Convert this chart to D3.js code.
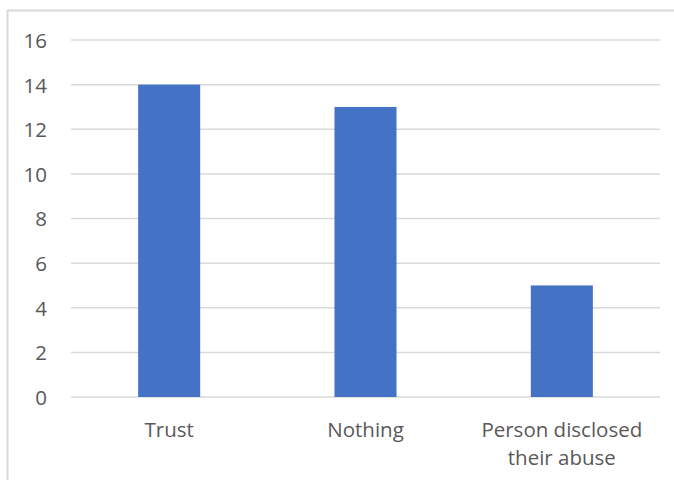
<!DOCTYPE html>
<html><head><meta charset="utf-8">
<script src="https://cdn.jsdelivr.net/npm/d3@7"></script>
<style>body{margin:0;background:#fff}svg{display:block}</style>
</head><body>
<script>
const categories = ["Trust", "Nothing", "Person disclosed their abuse"];
const values = [14, 13, 5];
const yTicks = [0, 2, 4, 6, 8, 10, 12, 14, 16];

const W = 674, H = 480;
const svg = d3.select("body").append("svg").attr("width", W).attr("height", H);
const font = "'Open Sans', sans-serif";
const textColor = "#595959";
const fs = 20.5;

// chart border (top & left visible)
svg.append("line").attr("x1", 7).attr("x2", W).attr("y1", 10.5).attr("y2", 10.5)
  .attr("stroke", "#d9d9d9").attr("stroke-width", 2);
svg.append("line").attr("x1", 7.5).attr("x2", 7.5).attr("y1", 10).attr("y2", H)
  .attr("stroke", "#d9d9d9").attr("stroke-width", 2);

const x0 = 71, x1 = 660, yTop = 40, yBot = 397;
const x = d3.scaleBand().domain(categories).range([x0, x1]).padding(0);
const y = d3.scaleLinear().domain([0, 16]).range([yBot, yTop]);

// gridlines
svg.append("g").selectAll("line").data(yTicks).join("line")
  .attr("x1", x0).attr("x2", x1)
  .attr("y1", d => y(d)).attr("y2", d => y(d))
  .attr("stroke", "#d9d9d9").attr("stroke-width", 1.5);

// y axis labels
const yAxis = d3.axisLeft(y).tickValues(yTicks).tickSize(0).tickPadding(0);
const gy = svg.append("g").attr("transform", "translate(47,0)").call(yAxis);
gy.select(".domain").remove();
gy.selectAll("text").attr("font-family", font).attr("font-size", fs).attr("fill", textColor)
  .attr("dy", "0.36em");

// bars
const bw = x.bandwidth() * 0.316;
svg.append("g").selectAll("rect").data(values).join("rect")
  .attr("x", (d, i) => x(categories[i]) + x.bandwidth() / 2 - bw / 2)
  .attr("width", bw)
  .attr("y", d => y(d))
  .attr("height", d => y(0) - y(d))
  .attr("fill", "#4472c4");

// category labels with wrapping
const wrapped = {"Person disclosed their abuse": ["Person disclosed", "their abuse"]};
const gx = svg.append("g");
categories.forEach(c => {
  const lines = wrapped[c] || [c];
  const t = gx.append("text")
    .attr("x", x(c) + x.bandwidth() / 2)
    .attr("y", 437)
    .attr("text-anchor", "middle")
    .attr("font-family", font).attr("font-size", fs).attr("fill", textColor);
  lines.forEach((l, i) => {
    t.append("tspan").attr("x", x(c) + x.bandwidth() / 2).attr("dy", i === 0 ? 0 : 28).text(l);
  });
});
</script>
</body></html>
